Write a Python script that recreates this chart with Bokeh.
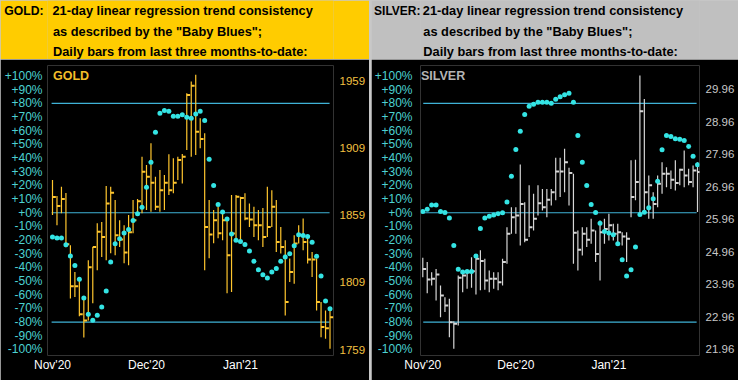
from bokeh.plotting import figure
from bokeh.models import Range1d, LinearAxis, FixedTicker, NumeralTickFormatter, Label
from bokeh.layouts import row, column
from bokeh.core.properties import value
from bokeh.embed import file_html
from bokeh.resources import INLINE

# ---------------- data ----------------
month_idx = [0, 21, 42]
month_labels = ["Nov'20", "Dec'20", "Jan'21"]
pct_ticks = [100, 90, 80, 70, 60, 50, 40, 30, 20, 10, 0, -10, -20, -30, -40, -50, -60, -70, -80, -90, -100]
pct_labels = ["+100%", "+90%", "+80%", "+70%", "+60%", "+50%", "+40%", "+30%", "+20%", "+10%", "+0%",
              "-10%", "-20%", "-30%", "-40%", "-50%", "-60%", "-70%", "-80%", "-90%", "-100%"]
levels = [80, 0, -80]
gold_price_ticks = [1759, 1809, 1859, 1909, 1959]
silver_price_ticks = [21.96, 22.96, 23.96, 24.96, 25.96, 26.96, 27.96, 28.96, 29.96]

gold_title = ["GOLD:", "21-day linear regression trend consistency",
              "as described by the \"Baby Blues\";", "Daily bars from last three months-to-date:"]
silver_title = ["SILVER:", "21-day linear regression trend consistency",
                "as described by the \"Baby Blues\";", "Daily bars from last three months-to-date:"]

gold_high = [1885.3, 1873.4, 1880.3, 1875.6, 1836.7, 1816.8, 1812.1, 1797.9, 1825.5, 1835.5,
             1853.2, 1854.1, 1880.8, 1880.3, 1870.4, 1855.4, 1851.7, 1859.2, 1870.4, 1871.1,
             1902.7, 1896.5, 1912.7, 1887.8, 1892.8, 1889.0, 1904.5, 1901.5, 1902.7, 1904.7,
             1950.1, 1958.8, 1963.8, 1931.4, 1920.2, 1870.4, 1862.9, 1865.4, 1862.9, 1856.9,
             1874.1, 1874.1, 1872.8, 1875.4, 1867.9, 1865.4, 1862.9, 1864.4, 1880.3, 1877.8,
             1870.4, 1850.4, 1840.5, 1826.8, 1844.2, 1851.7, 1856.7, 1844.2, 1831.7, 1826.8,
             1794.4, 1788.1, 1789.4]
gold_low = [1859.2, 1851.7, 1860.6, 1835.2, 1797.1, 1798.1, 1783.7, 1768.0, 1780.7, 1793.4,
            1818.0, 1828.0, 1825.5, 1830.8, 1829.3, 1835.5, 1823.3, 1821.8, 1845.7, 1859.2,
            1860.6, 1862.9, 1861.6, 1862.9, 1861.6, 1862.9, 1874.1, 1875.4, 1885.3, 1882.8,
            1907.7, 1902.7, 1904.0, 1909.0, 1818.0, 1827.0, 1838.2, 1842.0, 1840.5, 1800.9,
            1801.8, 1839.2, 1840.5, 1855.4, 1850.4, 1842.9, 1840.5, 1835.5, 1842.9, 1850.4,
            1831.7, 1830.5, 1784.4, 1809.3, 1808.1, 1838.0, 1833.0, 1823.1, 1813.0, 1788.1,
            1768.2, 1767.0, 1759.5]
gold_close = [1872.6, 1865.9, 1871.1, 1837.5, 1806.1, 1806.1, 1785.2, 1780.7, 1820.3, 1835.5,
              1846.7, 1842.9, 1867.9, 1875.8, 1844.2, 1841.0, 1831.3, 1846.4, 1855.4, 1869.6,
              1891.5, 1887.8, 1883.3, 1865.4, 1877.8, 1883.3, 1877.8, 1883.3, 1900.3, 1902.7,
              1948.8, 1955.6, 1921.4, 1916.0, 1850.4, 1844.7, 1855.4, 1845.7, 1855.4, 1829.3,
              1845.5, 1872.8, 1871.9, 1856.7, 1855.9, 1851.7, 1851.7, 1842.9, 1850.4, 1865.4,
              1839.2, 1835.5, 1794.4, 1816.8, 1838.0, 1844.2, 1839.2, 1826.0, 1826.0, 1794.4,
              1775.7, 1774.9, 1783.1]
gold_blues = [-17.8, -18.5, -18.5, -23.4, -31.7, -38.5, -48.7, -62.4, -74.3, -78.7,
              -75.0, -69.0, -57.3, -36.1, -22.7, -19.0, -14.9, -12.2, -5.6, -0.7,
              4.1, 18.7, 37.0, 58.9, 72.8, 74.8, 74.3, 70.6, 70.6, 71.6,
              69.9, 69.1, 72.3, 74.3, 67.4, 39.2, 20.0, 6.1, 0.5, -4.6,
              -15.6, -20.2, -21.0, -23.2, -28.0, -35.4, -41.7, -45.3, -47.8, -43.4,
              -40.7, -35.4, -32.4, -30.0, -24.1, -16.1, -16.6, -17.3, -21.5, -31.9,
              -46.3, -64.6, -70.2]

silver_high = [24.78, 24.65, 24.34, 24.44, 23.93, 23.57, 23.52, 22.83, 24.24, 24.34,
               24.39, 24.80, 24.90, 25.01, 24.75, 24.39, 24.34, 24.34, 24.75, 25.72,
               26.34, 26.34, 27.65, 26.49, 27.01, 26.75, 27.01, 26.90, 26.90, 26.90,
               27.86, 27.86, 28.14, 27.55, 27.37, 25.62, 25.72, 25.72, 25.98, 25.62,
               25.93, 25.98, 26.14, 25.83, 25.83, 25.57, 25.57, 27.78, 27.80, 30.39,
               29.67, 27.31, 26.80, 27.31, 27.72, 27.57, 27.47, 27.78, 27.52, 28.08,
               27.52, 27.62, 27.72]
silver_low = [24.18, 23.69, 23.93, 23.47, 22.95, 23.11, 22.34, 21.98, 22.70, 23.72,
              23.83, 23.86, 23.65, 23.78, 23.80, 23.72, 23.83, 23.78, 23.93, 24.60,
              25.52, 25.52, 25.16, 25.26, 25.42, 25.62, 26.08, 26.24, 26.03, 26.39,
              26.55, 26.65, 26.80, 26.39, 24.60, 24.39, 24.85, 25.11, 25.21, 24.65,
              24.08, 25.21, 25.31, 25.31, 25.16, 25.16, 24.65, 26.03, 26.55, 26.14,
              26.19, 25.98, 25.98, 26.34, 26.75, 26.95, 26.90, 26.85, 27.01, 26.95,
              27.01, 26.95, 26.19]
silver_close = [24.44, 24.11, 24.14, 24.27, 23.62, 23.31, 22.80, 22.75, 24.17, 24.24,
                24.34, 24.37, 24.75, 24.68, 24.08, 24.14, 24.14, 24.03, 24.65, 25.52,
                26.03, 26.08, 26.44, 25.34, 25.72, 25.98, 26.46, 26.34, 26.57, 26.80,
                27.44, 27.44, 27.72, 27.39, 25.55, 25.03, 25.52, 25.34, 25.62, 24.90,
                25.57, 25.67, 25.78, 25.52, 25.57, 25.44, 25.37, 26.65, 27.11, 29.29,
                26.80, 27.01, 26.44, 27.06, 27.37, 27.37, 27.18, 27.08, 27.49, 27.31,
                27.11, 27.47, 27.42]
silver_blues = [1.0, 2.6, 5.6, 5.6, 1.0, 0.2, -3.9, -23.9, -41.4, -43.4,
                -42.9, -42.9, -31.7, -11.5, -3.9, -2.5, -1.7, -0.7, 0.0, 7.8,
                26.7, 46.3, 59.6, 71.8, 77.9, 79.4, 80.8, 80.8, 80.8, 80.1,
                83.0, 84.8, 86.2, 87.4, 80.8, 56.5, 37.0, 19.9, 6.1, 0.2,
                -7.6, -13.7, -14.9, -16.1, -22.7, -34.3, -46.3, -41.7, -25.1, -1.2,
                0.4, 3.7, 10.2, 23.1, 46.0, 56.5, 55.8, 54.1, 53.8, 52.8,
                48.4, 41.4, 35.1]

FONT = "Liberation Sans"
HDR_H = 59
PLOT_H = 321


def no_ticks(ax):
    ax.major_tick_line_color = None
    ax.minor_tick_line_color = None
    ax.major_tick_out = 0
    ax.major_tick_in = 0
    ax.minor_tick_out = 0
    ax.minor_tick_in = 0
    ax.axis_line_color = None


def header(width, bg, lines, fl, fr, text_x, lead_size, lead_standoff):
    # frame of the header lines up with the frame of the chart below it,
    # so x data units are canvas pixels
    h = figure(width=width, height=HDR_H, x_range=Range1d(fl, width - fr), y_range=Range1d(0, HDR_H),
               output_backend="svg", toolbar_location=None,
               min_border_left=fl, min_border_right=fr, min_border_top=0, min_border_bottom=0,
               background_fill_color=bg, border_fill_color=bg, outline_line_color=None,
               x_axis_location=None, y_axis_location="left")
    h.xgrid.visible = False
    h.ygrid.visible = False
    ys = [HDR_H - 10, HDR_H - 31, HDR_H - 51]
    ya = h.yaxis[0]
    ya.ticker = FixedTicker(ticks=[ys[0]])
    ya.major_label_overrides = {ys[0]: lines[0]}
    no_ticks(ya)
    ya.major_label_text_color = "black"
    ya.major_label_text_font = FONT
    ya.major_label_text_font_style = "bold"
    ya.major_label_text_font_size = lead_size
    ya.major_label_standoff = lead_standoff
    for i, (y, t) in enumerate(zip(ys, lines[1:])):
        h.add_layout(Label(x=text_x + (0 if i == 0 else 0.5), y=y, text=t, text_font=FONT,
                           text_font_style="bold", text_font_size="12.8px", text_color="black",
                           text_baseline="middle", text_align="left"))
    return h


def panel(width, high, low, close, blues, bar_color, name, name_color, name_x, xr, pr, fl, fr,
          lines_x, pct_standoff, price_ticks, price_fmt, price_color):
    idx = list(range(len(close)))
    p = figure(width=width, height=PLOT_H, x_range=Range1d(*xr), y_range=Range1d(-104.39, 107.68),
               output_backend="svg", toolbar_location=None,
               min_border_left=fl, min_border_right=fr, min_border_top=6, min_border_bottom=25,
               background_fill_color="black", border_fill_color="black", outline_line_color=None)
    p.extra_y_ranges = {"price": Range1d(*pr)}
    p.xgrid.visible = False
    p.ygrid.visible = False

    # level lines
    p.segment(x0=[lines_x[0]] * len(levels), y0=levels, x1=[lines_x[1]] * len(levels), y1=levels,
              line_color="#3FB2D6", line_width=1.2)

    # HLC bars
    p.segment(x0=idx, y0=low, x1=idx, y1=high, line_color=bar_color, line_width=1.2,
              y_range_name="price")
    p.segment(x0=idx, y0=close, x1=[i + 0.75 for i in idx], y1=close, line_color=bar_color,
              line_width=2, y_range_name="price")

    # baby blues
    p.scatter(idx, blues, size=5, fill_color="#34E4E4", line_color=None)

    p.text(x=[name_x], y=[100], text=[name], text_color=name_color, text_font=value(FONT),
           text_font_style="bold", text_font_size="12.5px", text_baseline="middle", text_align="left")

    def style(ax, color, standoff, size="12px"):
        no_ticks(ax)
        ax.major_label_text_color = color
        ax.major_label_text_font = FONT
        ax.major_label_text_font_size = size
        ax.major_label_standoff = standoff

    ya = p.yaxis[0]
    ya.ticker = FixedTicker(ticks=pct_ticks)
    ya.major_label_overrides = dict(zip(pct_ticks, pct_labels))
    style(ya, "#4CD2D2", pct_standoff)

    xa = p.xaxis[0]
    xa.ticker = FixedTicker(ticks=month_idx)
    xa.major_label_overrides = dict(zip(month_idx, month_labels))
    style(xa, "white", 2)

    ra = LinearAxis(y_range_name="price", ticker=FixedTicker(ticks=price_ticks),
                    formatter=NumeralTickFormatter(format=price_fmt))
    style(ra, price_color, 6, "11.5px")
    p.add_layout(ra, "right")
    return p


GW, SW = 369, 367
G_FL, G_FR = 47, 36
S_FL, S_FR = 48, 39

gh = header(GW, "#FFCC00", gold_title, G_FL, G_FR, 52, "12.2px", 4)
gp = panel(GW, gold_high, gold_low, gold_close, gold_blues, "#FFC62E", "GOLD", "#F2BE2A", 0.1,
           (-1.117, 62.78), (1754.53, 1970.7), G_FL, G_FR, (-0.2, 61.9), 5,
           gold_price_ticks, "0", "#F2C040")
sh = header(SW, "#C0C0C0", silver_title, S_FL, S_FR, 50.3, "12px", 0)
sp = panel(SW, silver_high, silver_low, silver_close, silver_blues, "#D6D6D6", "SILVER", "#B4B4B4", -0.4,
           (-0.517, 62.45), (21.775, 30.698), S_FL, S_FR, (0.1, 61.8), 8,
           silver_price_ticks, "0.00", "#C8C8C8")

layout = row(column(gh, gp), column(sh, sp), spacing=2, styles={"background-color": "#C8C8C8"})

open("out.html", "w").write(file_html(layout, INLINE))
